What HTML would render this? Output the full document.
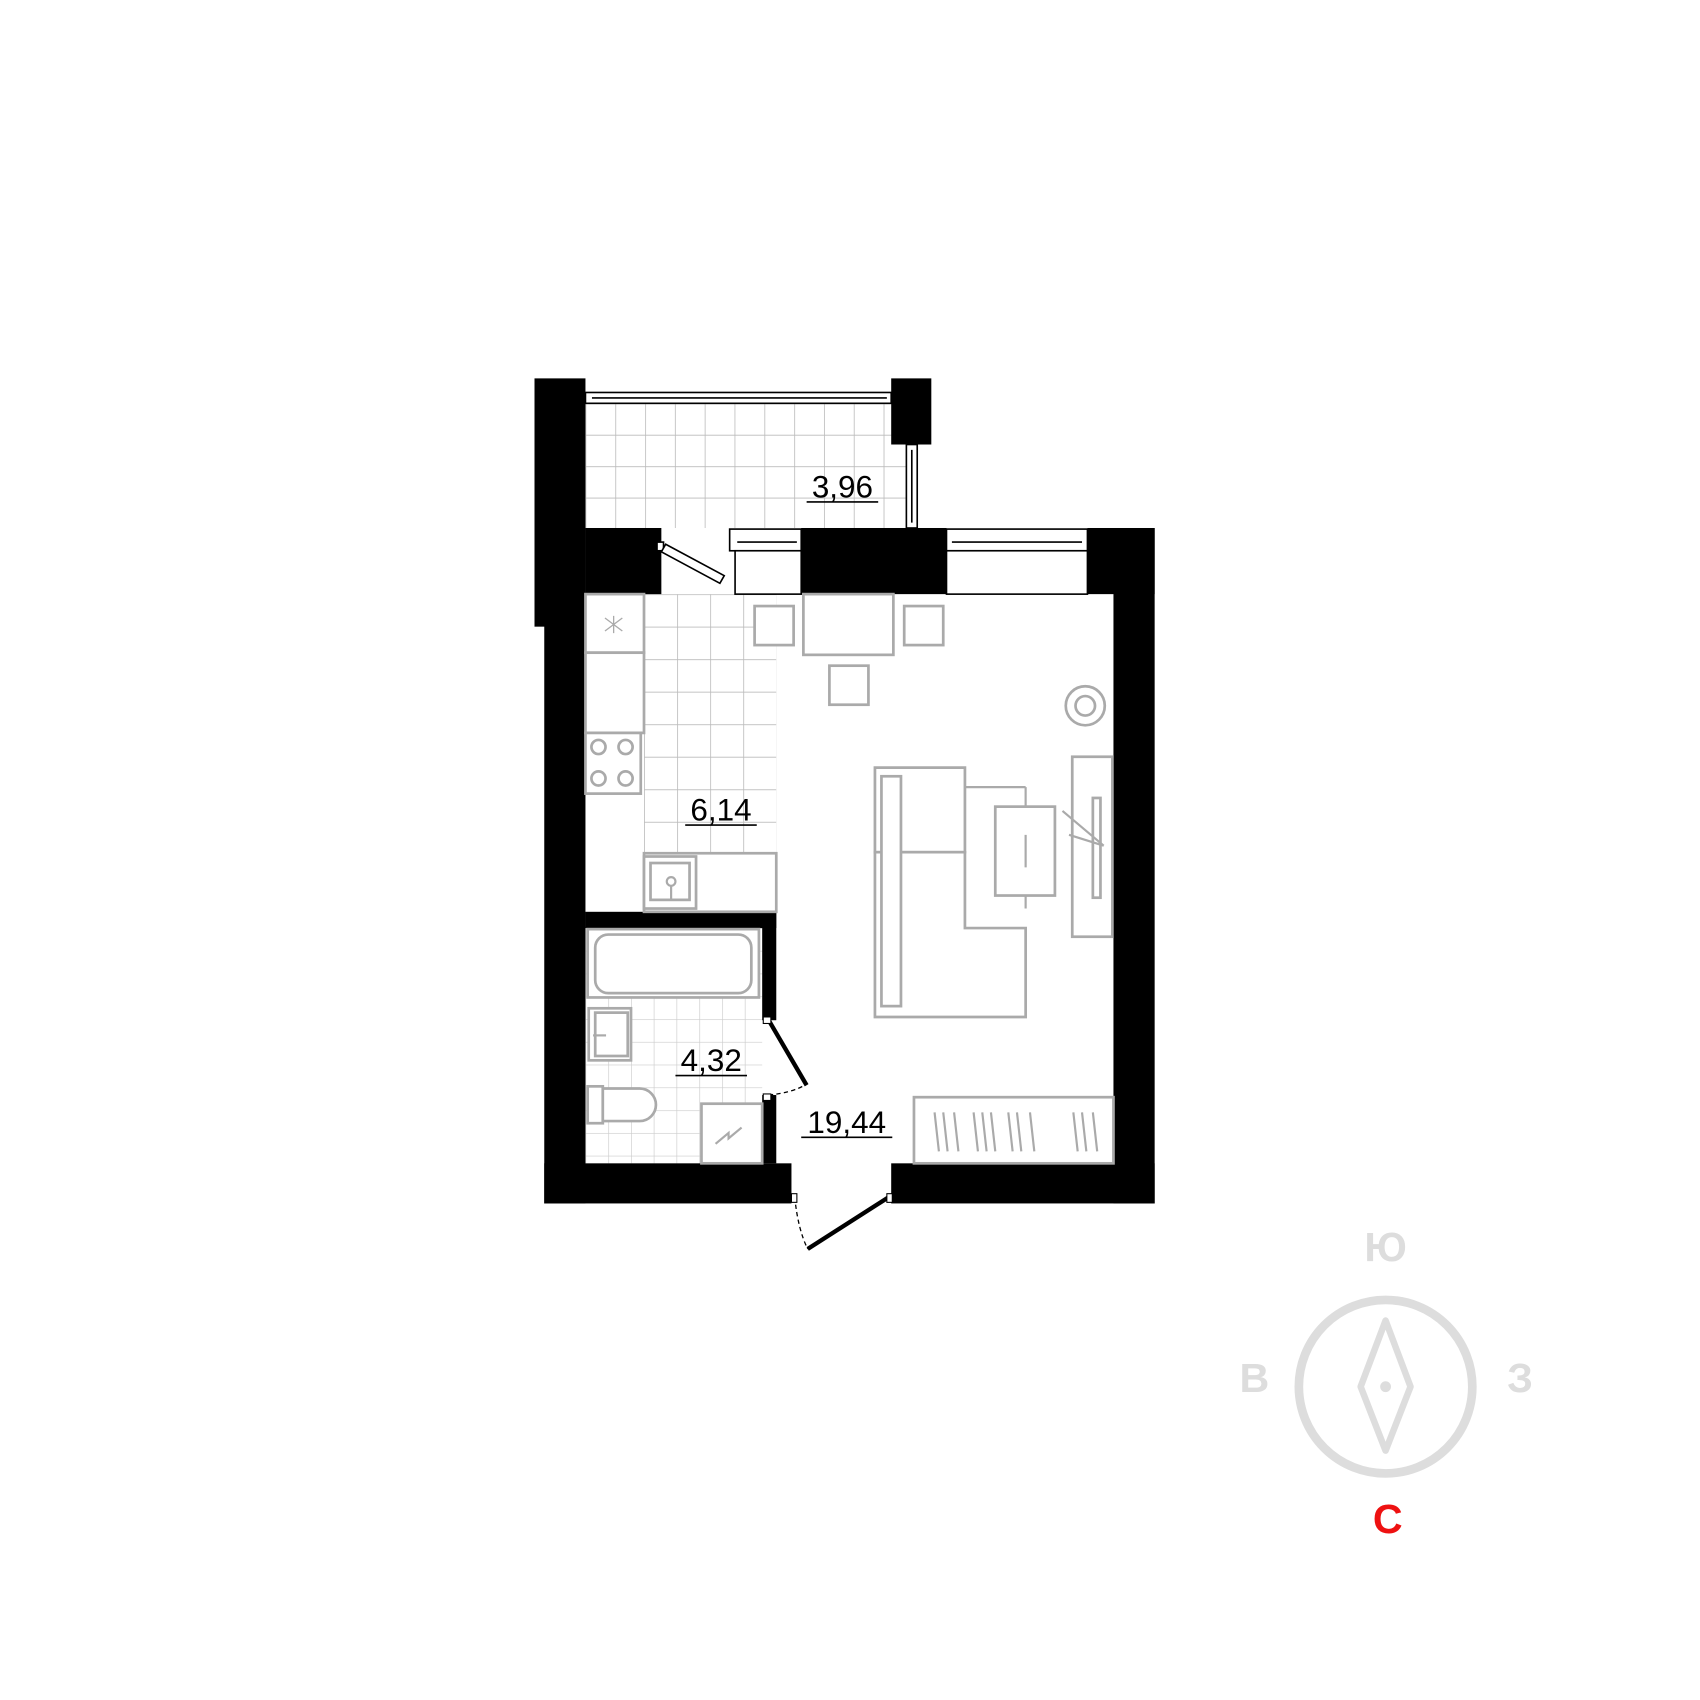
<!DOCTYPE html>
<html><head><meta charset="utf-8"><style>
html,body{margin:0;padding:0;background:#fff}
svg{display:block}
text{font-family:"Liberation Sans","DejaVu Sans",sans-serif}
</style></head><body>
<svg width="1700" height="1700" viewBox="0 0 1568 1568" xmlns="http://www.w3.org/2000/svg">
<defs>
<pattern id="t" x="540" y="372" width="27.5" height="29" patternUnits="userSpaceOnUse">
<path d="M0 0H27.5M0 0V29" stroke="#bbb" stroke-width="1.5" fill="none"/></pattern>
<pattern id="k" x="594" y="548" width="30.5" height="30" patternUnits="userSpaceOnUse">
<path d="M0 0H30.5M0 0V30" stroke="#bbb" stroke-width="1.5" fill="none"/></pattern>
<pattern id="b" x="540" y="856" width="21" height="21" patternUnits="userSpaceOnUse">
<path d="M0 0H21M0 0V21" stroke="#ccc" stroke-width="1.2" fill="none"/></pattern>
</defs>
<!-- tiles -->
<rect x="540" y="372" width="296" height="115" fill="url(#t)"/>
<rect x="594" y="548" width="122" height="239" fill="url(#k)"/>
<rect x="540" y="856" width="163" height="217" fill="url(#b)"/>
<!-- walls -->
<g fill="#000">
<rect x="493" y="349" width="47" height="229"/>
<rect x="502" y="548" width="38" height="562"/>
<rect x="822" y="349" width="37" height="61"/>
<rect x="540" y="487" width="70" height="61"/>
<rect x="610" y="487" width="-6" height="0"/>
<rect x="739" y="487" width="134" height="61"/>
<rect x="1003" y="487" width="62" height="61"/>
<rect x="1027" y="487" width="38" height="623"/>
<rect x="502" y="1073" width="228" height="37"/>
<rect x="822" y="1073" width="243" height="37"/>
<rect x="540" y="841" width="176" height="15"/>
<rect x="703" y="841" width="13" height="100"/>
<rect x="703" y="1010" width="13" height="63"/>
</g>
<!-- windows -->
<g fill="#fff" stroke="#000" stroke-width="1.5">
<rect x="540" y="362" width="282" height="10"/>
<line x1="546" y1="367" x2="818" y2="367"/>
<rect x="836" y="410" width="10" height="77"/>
<line x1="841" y1="415" x2="841" y2="482"/>
<rect x="673" y="488" width="66" height="20"/>
<rect x="678" y="508" width="61" height="40"/>
<rect x="873" y="488" width="130" height="20"/>
<rect x="873" y="508" width="130" height="40"/>
<rect x="606" y="500" width="6" height="8"/>
<path d="M614 502 L668 531 L664 538 L610 509 Z"/>
</g>
<line x1="680" y1="500" x2="735" y2="500" stroke="#000" stroke-width="1.5"/>
<line x1="878" y1="500" x2="998" y2="500" stroke="#000" stroke-width="1.5"/>
<!-- furniture -->
<g fill="#fff" stroke="#aaa" stroke-width="2.5">
<rect x="540" y="548" width="54" height="54"/>
<rect x="540" y="602" width="54" height="74"/>
<rect x="540" y="676" width="51" height="56"/>
<circle cx="552" cy="689" r="6.5"/><circle cx="577" cy="689" r="6.5"/>
<circle cx="552" cy="718" r="6.5"/><circle cx="577" cy="718" r="6.5"/>
<rect x="594" y="787" width="122" height="54"/>
<rect x="594" y="790" width="48" height="48"/>
<rect x="600" y="796" width="36" height="34"/>
<rect x="696" y="559" width="36" height="36"/>
<rect x="741" y="548" width="83" height="56"/>
<rect x="834" y="559" width="36" height="36"/>
<rect x="765" y="614" width="36" height="36"/>
<circle cx="1001" cy="651" r="18"/><circle cx="1001" cy="651" r="9"/>
<rect x="989" y="698" width="37" height="166"/>
<rect x="1008" y="736" width="7" height="92"/>
<path d="M807 708 H890 V786 H807 Z"/>
<path d="M807 786 H890 V856 H946 V938 H807 Z"/>
<rect x="813" y="716" width="18" height="212"/>
<rect x="918" y="744" width="55" height="82"/>
<rect x="843" y="1012" width="184" height="61"/>
<rect x="542" y="857" width="158" height="63"/>
<rect x="549" y="862" width="144" height="54" rx="12"/>
<rect x="543" y="930" width="39" height="48"/>
<rect x="549" y="934" width="30" height="40"/>
<rect x="542" y="1002" width="14" height="34"/>
<path d="M556 1004 H590 A15 15 0 0 1 590 1034 H556 Z"/>
<rect x="647" y="1018" width="56" height="55"/>
</g>
<g stroke="#aaa" stroke-width="2" fill="none">
<path d="M890 726 H946 M946 726 V744 M946 826 V838 M946 770 V800"/>
<path d="M980 748 L1018 780 M986 770 L1018 780"/>
<path d="M862 1026 l4 36 M870 1026 l4 36 M880 1026 l4 36 M898 1026 l4 36 M906 1026 l4 36 M914 1026 l4 36 M930 1026 l4 36 M938 1026 l4 36 M950 1026 l4 36 M990 1026 l4 36 M998 1026 l4 36 M1008 1026 l4 36"/>
<path d="M660 1055 l12 -10 l0 5 l12 -10"/>
<path d="M558 570 l16 12 M558 582 l16 -12 M566 568 v16" stroke-width="1.2"/>
<circle cx="619" cy="813" r="4"/><path d="M619 817 v14"/>
<path d="M547 955 h12"/>
</g>
<!-- doors -->
<g stroke="#000" fill="none">
<path d="M709 941 L744 1001" stroke-width="4"/>
<path d="M709 1010 Q730 1008 742 1001" stroke-width="1.2" stroke-dasharray="4 3"/>
<path d="M820 1104 L745 1152" stroke-width="4"/>
<path d="M733 1104 Q736 1134 745 1152" stroke-width="1.2" stroke-dasharray="4 3"/>
<rect x="730" y="1101" width="5" height="8" fill="#fff" stroke-width="1"/>
<rect x="818" y="1101" width="5" height="8" fill="#fff" stroke-width="1"/>
<rect x="704" y="938" width="7" height="6" fill="#fff" stroke-width="1"/>
<rect x="704" y="1009" width="7" height="6" fill="#fff" stroke-width="1"/>
</g>
<!-- labels -->
<g font-size="29" fill="#000" text-anchor="middle">
<text x="777" y="459">3,96</text>
<text x="665" y="757">6,14</text>
<text x="656" y="988">4,32</text>
<text x="781" y="1045">19,44</text>
</g>
<g stroke="#000" stroke-width="1.5">
<line x1="744" y1="463" x2="810" y2="463"/>
<line x1="632" y1="761" x2="698" y2="761"/>
<line x1="623" y1="992" x2="689" y2="992"/>
<line x1="739" y1="1049" x2="823" y2="1049"/>
</g>
<!-- compass -->
<circle cx="1278" cy="1279" r="80" fill="none" stroke="#ddd" stroke-width="8"/>
<path d="M1278 1218 L1301 1279 L1278 1338 L1255 1279 Z" fill="none" stroke="#ddd" stroke-width="6" stroke-linejoin="round"/>
<circle cx="1278" cy="1279" r="5" fill="#ddd"/>
<g font-size="38" font-weight="bold" text-anchor="middle" fill="#ddd">
<text x="1278" y="1163">Ю</text>
<text x="1157" y="1284">В</text>
<text x="1402" y="1284">З</text>
<text x="1280" y="1414" fill="#e11">С</text>
</g>
</svg>
</body></html>
